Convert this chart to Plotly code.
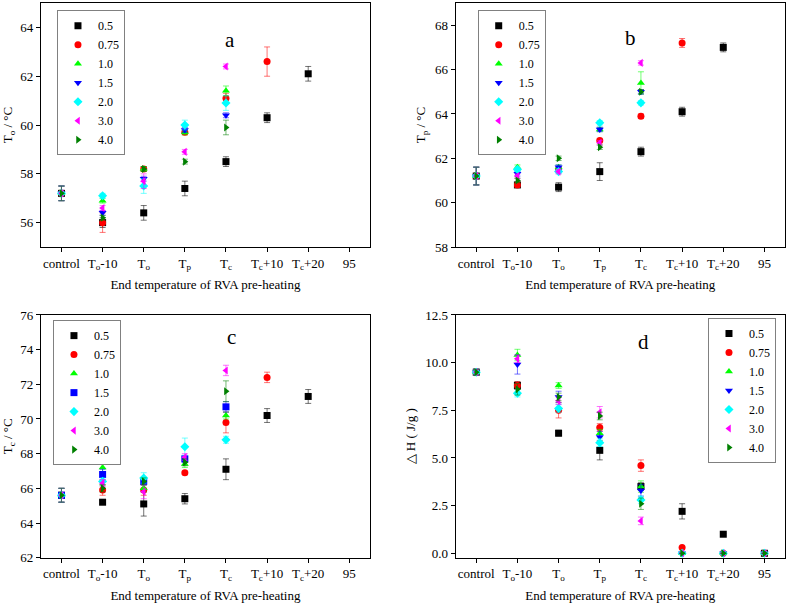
import plotly.graph_objects as go
from plotly.subplots import make_subplots

# categories on the x axis (end temperature of RVA pre-heating)
categories = ["control", "To-10", "To", "Tp", "Tc", "Tc+10", "Tc+20", "95"]
tick_labels = ["control", "T<sub>o</sub>-10", "T<sub>o</sub>", "T<sub>p</sub>",
               "T<sub>c</sub>", "T<sub>c</sub>+10", "T<sub>c</sub>+20", "95"]

series_names = ["0.5", "0.75", "1.0", "1.5", "2.0", "3.0", "4.0"]
colors = ["#000000", "#ff0000", "#00ff00", "#0000ff", "#00ffff", "#ff00ff", "#008000"]
symbols = ["square", "circle", "triangle-up", "triangle-down", "diamond",
           "triangle-left", "triangle-right"]
symbols_c = ["square", "circle", "triangle-up", "square", "diamond",
             "triangle-left", "triangle-right"]

N = None

# panel a : To (°C)
to_vals = {
    "0.5":  [57.2, 56.0, 56.4, 57.4, 58.5, 60.3, 62.1, N],
    "0.75": [57.2, 56.0, 58.2, 59.7, 61.1, 62.6, N, N],
    "1.0":  [57.2, 56.9, 58.2, 59.7, 61.4, N, N, N],
    "1.5":  [57.2, 56.4, 57.8, 59.8, 60.4, N, N, N],
    "2.0":  [57.2, 57.1, 57.5, 60.0, 60.9, N, N, N],
    "3.0":  [57.2, 56.6, 57.7, 58.9, 62.4, N, N, N],
    "4.0":  [57.2, 56.2, 58.2, 58.5, 59.9, N, N, N],
}
to_err = {
    "0.5":  [0.3, 0.2, 0.3, 0.3, 0.2, 0.2, 0.3, 0],
    "0.75": [0.3, 0.4, 0.1, 0.1, 0.2, 0.6, 0, 0],
    "1.0":  [0.3, 0.1, 0.1, 0.1, 0.2, 0, 0, 0],
    "1.5":  [0.3, 0.1, 0.1, 0.1, 0.1, 0, 0, 0],
    "2.0":  [0.3, 0.1, 0.3, 0.2, 0.3, 0, 0, 0],
    "3.0":  [0.3, 0.1, 0.3, 0.1, 0.1, 0, 0, 0],
    "4.0":  [0.3, 0.1, 0.1, 0.1, 0.3, 0, 0, 0],
}

# panel b : Tp (°C)
tp_vals = {
    "0.5":  [61.2, 60.8, 60.7, 61.4, 62.3, 64.1, 67.0, N],
    "0.75": [61.2, 60.8, 61.5, 62.8, 63.9, 67.2, N, N],
    "1.0":  [61.2, 61.6, 61.6, 63.3, 65.4, N, N, N],
    "1.5":  [61.2, 61.3, 61.6, 63.3, 65.0, N, N, N],
    "2.0":  [61.2, 61.5, 61.4, 63.6, 64.5, N, N, N],
    "3.0":  [61.2, 61.2, 61.4, 62.7, 66.3, N, N, N],
    "4.0":  [61.2, 61.0, 62.0, 62.5, 65.0, N, N, N],
}
tp_err = {
    "0.5":  [0.4, 0.1, 0.2, 0.4, 0.2, 0.2, 0.2, 0],
    "0.75": [0.4, 0.1, 0.1, 0.1, 0.1, 0.2, 0, 0],
    "1.0":  [0.4, 0.1, 0.1, 0.1, 0.5, 0, 0, 0],
    "1.5":  [0.4, 0.1, 0.1, 0.1, 0.1, 0, 0, 0],
    "2.0":  [0.4, 0.1, 0.1, 0.1, 0.1, 0, 0, 0],
    "3.0":  [0.4, 0.1, 0.1, 0.1, 0.1, 0, 0, 0],
    "4.0":  [0.4, 0.1, 0.1, 0.1, 0.1, 0, 0, 0],
}

# panel c : Tc (°C)
tc_vals = {
    "0.5":  [65.6, 65.2, 65.1, 65.4, 67.1, 70.2, 71.3, N],
    "0.75": [65.6, 65.9, 65.9, 66.9, 69.8, 72.4, N, N],
    "1.0":  [65.6, 67.2, 66.0, 67.4, 70.2, N, N, N],
    "1.5":  [65.6, 66.8, 66.4, 67.7, 70.7, N, N, N],
    "2.0":  [65.6, 66.4, 66.6, 68.4, 68.8, N, N, N],
    "3.0":  [65.6, 66.3, 65.8, 67.8, 72.8, N, N, N],
    "4.0":  [65.6, 66.0, 66.4, 67.5, 71.6, N, N, N],
}
tc_err = {
    "0.5":  [0.4, 0.1, 0.7, 0.3, 0.6, 0.4, 0.4, 0],
    "0.75": [0.4, 0.3, 0.3, 0.1, 0.6, 0.3, 0, 0],
    "1.0":  [0.4, 1.0, 0.2, 0.2, 0.2, 0, 0, 0],
    "1.5":  [0.4, 0.3, 0.2, 0.2, 0.3, 0, 0, 0],
    "2.0":  [0.4, 0.2, 0.3, 0.5, 0.2, 0, 0, 0],
    "3.0":  [0.4, 0.2, 0.4, 0.2, 0.3, 0, 0, 0],
    "4.0":  [0.4, 0.2, 0.2, 0.2, 0.6, 0, 0, 0],
}

# panel d : enthalpy (J/g)
dh_vals = {
    "0.5":  [9.5, 8.8, 6.3, 5.4, 3.5, 2.2, 1.0, 0.0],
    "0.75": [9.5, 8.8, 7.5, 6.6, 4.6, 0.3, 0.0, 0.0],
    "1.0":  [9.5, 10.4, 8.8, 6.3, 3.5, 0.0, 0.0, 0.0],
    "1.5":  [9.5, 9.9, 8.2, 6.1, 3.3, 0.0, 0.0, 0.0],
    "2.0":  [9.5, 8.4, 7.6, 5.8, 2.8, 0.0, 0.0, 0.0],
    "3.0":  [9.5, 10.2, 8.0, 7.4, 1.7, 0.0, 0.0, 0.0],
    "4.0":  [9.5, 8.6, 8.2, 7.2, 2.6, 0.0, 0.0, 0.0],
}
dh_err = {
    "0.5":  [0.15, 0.2, 0.15, 0.5, 0.2, 0.4, 0.05, 0],
    "0.75": [0.15, 0.2, 0.4, 0.2, 0.3, 0.05, 0, 0],
    "1.0":  [0.15, 0.3, 0.15, 0.2, 0.3, 0, 0, 0],
    "1.5":  [0.15, 0.5, 0.3, 0.3, 0.3, 0, 0, 0],
    "2.0":  [0.15, 0.2, 0.2, 0.2, 0.2, 0, 0, 0],
    "3.0":  [0.15, 0.2, 0.2, 0.3, 0.2, 0, 0, 0],
    "4.0":  [0.15, 0.3, 0.2, 0.2, 0.3, 0, 0, 0],
}

FONT = "Liberation Serif"


def rgba(hex_color, a):
    h = hex_color.lstrip("#")
    r, g, b = int(h[0:2], 16), int(h[2:4], 16), int(h[4:6], 16)
    return f"rgba({r},{g},{b},{a})"


fig = make_subplots(rows=2, cols=2)

panels = [
    (1, 1, to_vals, to_err, symbols, "legend"),
    (1, 2, tp_vals, tp_err, symbols, "legend2"),
    (2, 1, tc_vals, tc_err, symbols_c, "legend3"),
    (2, 2, dh_vals, dh_err, symbols, "legend4"),
]

for row, col, vals, errs, syms, leg in panels:
    for i, name in enumerate(series_names):
        fig.add_trace(go.Scatter(
            x=categories, y=vals[name], name=name, mode="markers",
            marker=dict(symbol=syms[i], color=colors[i], size=7),
            error_y=dict(type="data", array=errs[name], color=rgba(colors[i], 0.55),
                         thickness=1, width=3),
            legend=leg, cliponaxis=False,
        ), row=row, col=col)

# panel domains (paper fractions)
x_left = [0.052, 0.470]
x_right = [0.579, 0.9975]
y_top = [0.591, 0.995]
y_bot = [0.0767, 0.4785]

axis_common = dict(showline=True, linecolor="black", linewidth=1, mirror=True,
                   showgrid=False, zeroline=False, ticks="outside",
                   tickcolor="black", ticklen=4, automargin=False,
                   tickfont=dict(family=FONT, size=13, color="black"))

xtitle = dict(text="End temperature of RVA pre-heating",
              font=dict(family=FONT, size=13, color="black"), standoff=8)

fig.update_layout(
    xaxis=dict(domain=x_left, anchor="y", range=[-0.5, 7.5], tickvals=categories,
               ticktext=tick_labels, title=xtitle, **axis_common),
    xaxis2=dict(domain=x_right, anchor="y2", range=[-0.5, 7.5], tickvals=categories,
                ticktext=tick_labels, title=xtitle, **axis_common),
    xaxis3=dict(domain=x_left, anchor="y3", range=[-0.5, 7.5], tickvals=categories,
                ticktext=tick_labels, title=xtitle, **axis_common),
    xaxis4=dict(domain=x_right, anchor="y4", range=[-0.5, 7.5], tickvals=categories,
                ticktext=tick_labels, title=xtitle, **axis_common),
    yaxis=dict(domain=y_top, anchor="x", range=[55, 65], dtick=2, tick0=56,
               title=dict(text="T<sub>o</sub> / °C", font=dict(family=FONT, size=13), standoff=6),
               **axis_common),
    yaxis2=dict(domain=y_top, anchor="x2", range=[58, 69], dtick=2, tick0=58,
                title=dict(text="T<sub>p</sub> / °C", font=dict(family=FONT, size=13), standoff=6),
                **axis_common),
    yaxis3=dict(domain=y_bot, anchor="x3", range=[62, 76], dtick=2, tick0=62,
                title=dict(text="T<sub>c</sub> / °C", font=dict(family=FONT, size=13), standoff=6),
                **axis_common),
    yaxis4=dict(domain=y_bot, anchor="x4", range=[-0.23, 12.5], dtick=2.5, tick0=0,
                tickformat=".1f",
                title=dict(text="△ H ( J/g )", font=dict(family=FONT, size=13), standoff=6),
                **axis_common),
)

legend_common = dict(bgcolor="white", bordercolor="#808080", borderwidth=1,
                     font=dict(family=FONT, size=12, color="black"),
                     yanchor="top", itemwidth=30, tracegroupgap=0)
fig.update_layout(
    legend=dict(x=0.0724, y=0.983, xanchor="left", **legend_common),
    legend2=dict(x=0.607, y=0.983, xanchor="left", **legend_common),
    legend3=dict(x=0.0673, y=0.470, xanchor="left", **legend_common),
    legend4=dict(x=0.986, y=0.4735, xanchor="right", **legend_common),
)

# panel letters
for txt, xp, yp in [("a", 223, 26), ("b", 638, 24), ("c", 225, 337), ("d", 651, 342)]:
    fig.add_annotation(text=txt, x=xp / 787, y=1 - yp / 604, xref="paper", yref="paper",
                       showarrow=False, font=dict(family=FONT, size=21, color="black"))

fig.update_layout(
    width=787, height=604,
    margin=dict(l=0, r=0, t=0, b=0),
    paper_bgcolor="white", plot_bgcolor="white",
    font=dict(family=FONT, color="black"),
)

# drop the default 8px body margin so the figure sits at the window's corner
fig.write_html("out.html", config={"displayModeBar": False},
               post_script="document.body.style.margin='0px';")
